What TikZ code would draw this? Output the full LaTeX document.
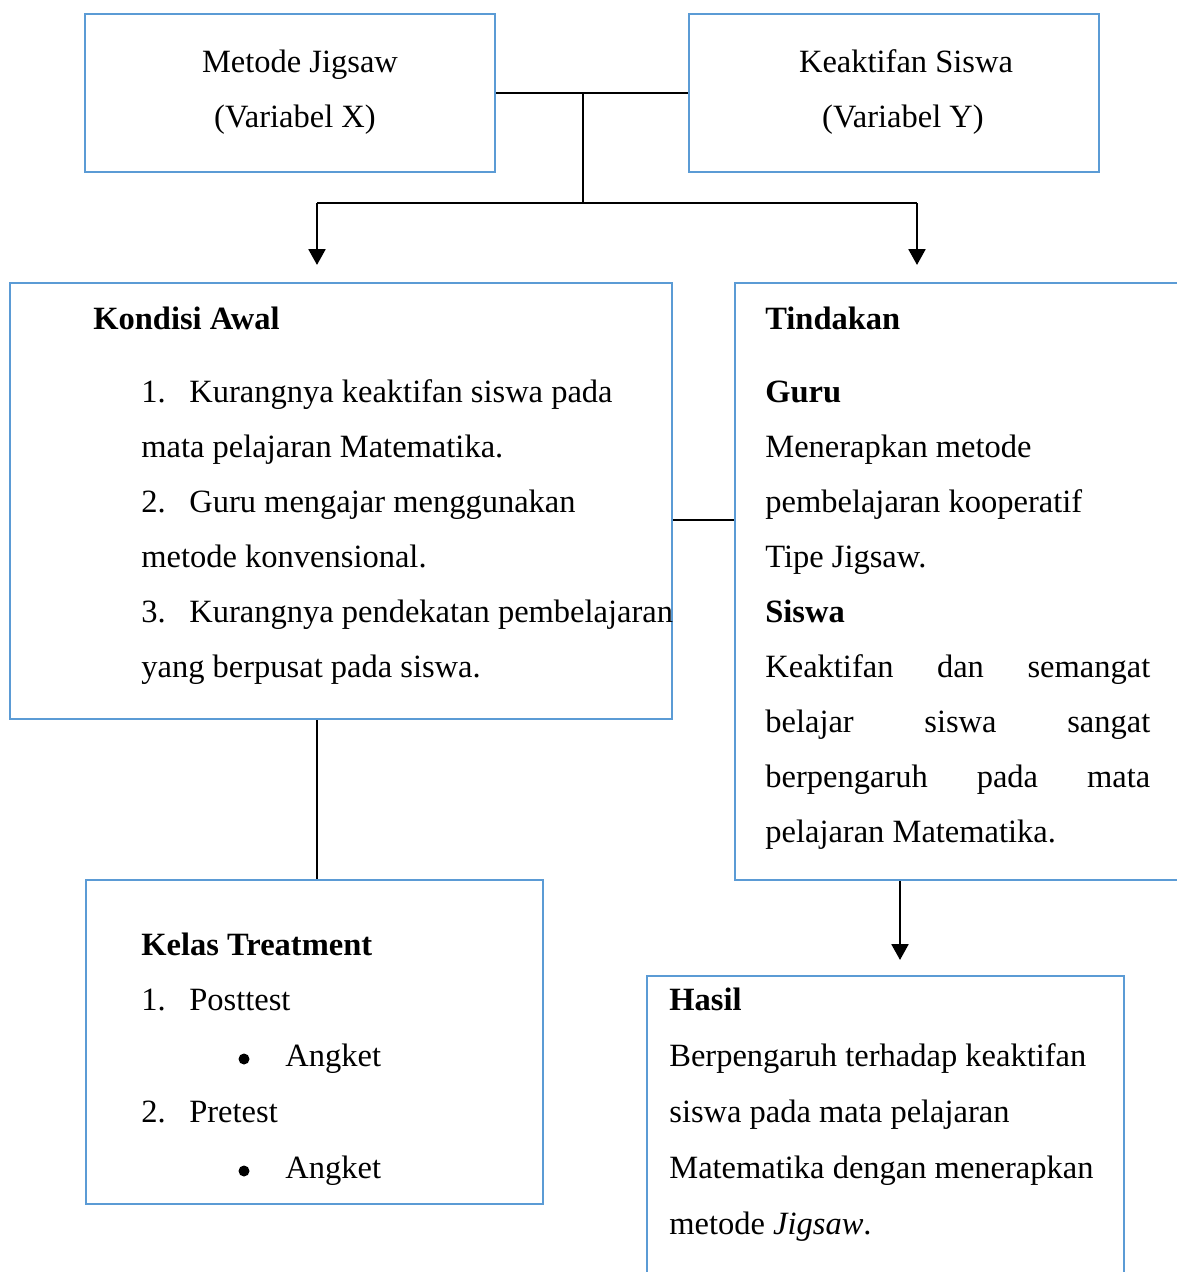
\documentclass[tikz,border=0pt]{standalone}
\usepackage{fontspec}
\setmainfont{Liberation Serif}
\usetikzlibrary{
  arrows.meta,
}
\definecolor{boxblue}{HTML}{5B9BD5}
\newcommand{\numlab}[1]{\makebox[0.96cm][l]{#1}}
\newcommand{\spreadline}[1]{\makebox[7.7cm][s]{#1}}

\begin{document}
\begin{tikzpicture}[
    x=0.02cm, y=-0.02cm,
    box/.style={draw=boxblue, line width=1.2pt, rectangle, inner sep=0pt},
    txt/.style={anchor=base west, inner sep=0pt, font=\fontsize{18.5}{20}\selectfont},
    ctxt/.style={txt, anchor=base},
    ttl/.style={txt, font=\fontsize{18.5}{20}\selectfont\bfseries},
    dot/.style={circle, fill=black, inner sep=0pt, minimum size=0.22cm},
    link/.style={black, line width=0.7pt},
    arr/.style={black, line width=1.6pt, -{Triangle[length=9pt, width=9.5pt]}},
  ]
  \clip (0,0) rectangle (1177,1272);

  % boxes
  \node[box, minimum width=8.2cm, minimum height=3.16cm] (metode) at (290,93) {};
  \node[box, minimum width=8.2cm, minimum height=3.16cm] (keaktifan) at (894,93) {};
  \node[box, minimum width=13.24cm, minimum height=8.72cm] (kondisi) at (341,501) {};
  \node[box, minimum width=9.3cm, minimum height=11.94cm] (tindakan) at (967.5,581.5) {};
  \node[box, minimum width=9.14cm, minimum height=6.48cm] (kelas) at (314.5,1042) {};
  \node[box, minimum width=9.54cm, minimum height=6.48cm] (hasil) at (885.5,1138) {};

  % header texts
  \node[ctxt] (mjA) at (300,72) {Metode Jigsaw};
  \node[ctxt] (mjB) at (295,127) {(Variabel X)};
  \node[ctxt] (ksA) at (906,72) {Keaktifan Siswa};
  \node[ctxt] (ksB) at (903,127) {(Variabel Y)};

  % kondisi awal
  \node[ttl] (kaT) at (93,329) {Kondisi Awal};
  \foreach \t [count=\i from 0] in {
      {\numlab{1.}Kurangnya keaktifan siswa pada},
      {mata pelajaran Matematika.},
      {\numlab{2.}Guru mengajar menggunakan},
      {metode konvensional.},
      {\numlab{3.}Kurangnya pendekatan pembelajaran},
      {yang berpusat pada siswa.}} {
      \node[txt] (ka\i) at (141,402+55*\i) {\t};
    }

  % tindakan
  \node[ttl] (tdT) at (765,329) {Tindakan};
  \node[ttl] (tdG) at (765,402) {Guru};
  \node[ttl] (tdS) at (765,622) {Siswa};
  \foreach \t [count=\i from 0] in {
      {Menerapkan metode},
      {pembelajaran kooperatif},
      {Tipe Jigsaw.}} {
      \node[txt] (tg\i) at (765,457+55*\i) {\t};
    }
  \foreach \t [count=\i from 0] in {
      {\spreadline{Keaktifan dan semangat}},
      {\spreadline{belajar siswa sangat}},
      {\spreadline{berpengaruh pada mata}},
      {pelajaran Matematika.}} {
      \node[txt] (ts\i) at (765,677+55*\i) {\t};
    }

  % kelas treatment
  \node[ttl] (kcT) at (141,955) {Kelas Treatment};
  \node[txt] (kc1) at (141,1010) {\numlab{1.}Posttest};
  \node[dot] (kb1) at (244,1059) {};
  \node[txt] (kc2) at (285,1066) {Angket};
  \node[txt] (kc3) at (141,1122) {\numlab{2.}Pretest};
  \node[dot] (kb2) at (244,1171) {};
  \node[txt] (kc4) at (285,1178) {Angket};

  % hasil
  \node[ttl] (hsT) at (669,1010) {Hasil};
  \foreach \t [count=\i from 0] in {
      {Berpengaruh terhadap keaktifan},
      {siswa pada mata pelajaran},
      {Matematika dengan menerapkan},
      {metode \textit{Jigsaw}.}} {
      \node[txt] (hs\i) at (669,1066+56*\i) {\t};
    }

  % connectors
  \coordinate (split) at (583,93);
  \coordinate (fork) at (583,203);
  \coordinate (kondisiIn) at (317,265);
  \coordinate (tindakanIn) at (917,265);
  \coordinate (midY) at (700,520);
  \coordinate (drop) at (317,800);
  \coordinate (hasilIn) at (900,960);

  \draw[link] (metode.east) -- (keaktifan.west);
  \draw[link] (split) -- (fork);
  \draw[link] (kondisiIn |- fork) -- (tindakanIn |- fork);
  \draw[arr] (kondisiIn |- fork) -- (kondisiIn);
  \draw[arr] (tindakanIn |- fork) -- (tindakanIn);
  \draw[link] (midY -| kondisi.east) -- (midY -| tindakan.west);
  \draw[link] (drop |- kondisi.south) -- (drop |- kelas.north);
  \draw[arr] (hasilIn |- tindakan.south) -- (hasilIn);

\end{tikzpicture}
\end{document}
